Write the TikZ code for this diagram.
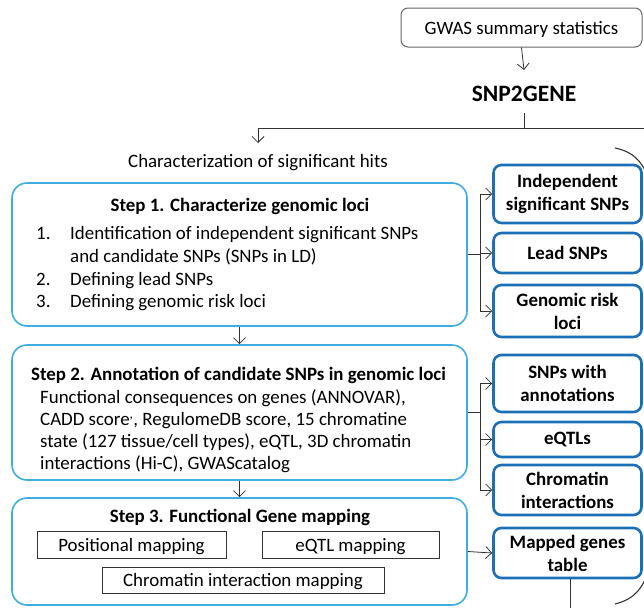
\documentclass[tikz,border=0pt]{standalone}
\usepackage{fontspec}
\setmainfont{Carlito}
\usetikzlibrary{arrows.meta}
\definecolor{lightb}{HTML}{3EADE0}
\definecolor{darkb}{HTML}{1B6FB6}
\definecolor{linec}{HTML}{333333}
\tikzset{
  stepbox/.style={draw=lightb, line width=1.6pt, rounded corners=15pt, minimum width=455pt, inner sep=0pt},
  resbox/.style={draw=darkb, line width=2.6pt, rounded corners=8pt, minimum width=148pt, inner sep=0pt, align=center, font=\fontsize{18.9}{23}\selectfont\bfseries},
  subbox/.style={draw=linec, line width=1pt, inner sep=0pt, text height=15pt, text depth=2pt, font=\fontsize{18.9}{22}\selectfont},
  txt/.style={inner sep=0pt, font=\fontsize{18.9}{22}\selectfont},
  ttl/.style={inner sep=0pt, font=\fontsize{18.9}{22}\selectfont\bfseries},
  conn/.style={draw=linec, line width=0.8pt},
  arr/.style={conn, -{Straight Barb[length=6pt,width=12pt,line width=0.8pt]}},
}
\begin{document}
\begin{tikzpicture}[x=1pt,y=-1pt]
\useasboundingbox (0,0) rectangle (644,608);
% top
\node[draw=gray!80!black, line width=1pt, rounded corners=7pt, minimum width=241pt, minimum height=39pt, txt, inner sep=0pt, text height=15pt, text depth=2pt] (gwas) at (521.5,27.5) {GWAS summary statistics};
\node[inner sep=0pt, anchor=base, font=\fontsize{23.5}{27}\selectfont\bfseries] (snp) at (524,101) {SNP2GENE};
\coordinate (j) at (524,128);
\coordinate (jl) at (258,128);
\coordinate (jr) at (644,128);
\coordinate (snpb) at (524,113);
\node[txt, anchor=base] (char) at (258,167) {Characterization of significant hits};
\coordinate (chartop) at (258,143);
\draw[arr] (gwas.south) -- (524,70);
\draw[conn] (snpb) -- (j);
\draw[conn] (jl) -- (jr);
\draw[arr] (jl) -- (chartop);

% step boxes
\node[stepbox, minimum height=143pt] (s1) at (239.5,254.5) {};
\node[stepbox, minimum height=135pt] (s2) at (239.5,412.5) {};
\node[stepbox, minimum height=107pt] (s3) at (239.5,551.5) {};

% step 1 content
\node[ttl, anchor=base] (t1) at (240,211) {Step 1. Characterize genomic loci};
\node[txt, anchor=base west] (n1) at (36,239) {1.};
\node[txt, anchor=base west] (n2) at (36,285) {2.};
\node[txt, anchor=base west] (n3) at (36,307) {3.};
\node[txt, anchor=base west] (l1) at (70,239) {Identification of independent significant SNPs};
\node[txt, anchor=base west] (l2) at (70,262) {and candidate SNPs (SNPs in LD)};
\node[txt, anchor=base west] (l3) at (70,285) {Defining lead SNPs};
\node[txt, anchor=base west] (l4) at (70,307) {Defining genomic risk loci};

% step 2 content
\node[ttl, anchor=base west] (t2) at (31,380) {Step 2. Annotation of candidate SNPs in genomic loci};
\node[txt, anchor=base west] (m1) at (40,403) {Functional consequences on genes (ANNOVAR),};
\node[txt, anchor=base west] (m2) at (40,425) {CADD score\textsuperscript{,}, RegulomeDB score, 15 chromatine};
\node[txt, anchor=base west] (m3) at (40,447) {state (127 tissue/cell types), eQTL, 3D chromatin};
\node[txt, anchor=base west] (m4) at (40,469) {interactions (Hi-C), GWAScatalog};

% step 3 content
\node[ttl, anchor=base] (t3) at (240,522) {Step 3. Functional Gene mapping};
\node[subbox, minimum width=189pt, minimum height=27pt] (pm) at (131.5,544.5) {Positional mapping};
\node[subbox, minimum width=177pt, minimum height=27pt] (em) at (350.5,544.5) {eQTL mapping};
\node[subbox, minimum width=282pt, minimum height=26pt] (cm) at (243,580) {Chromatin interaction mapping};

% result boxes
\node[resbox, minimum height=58pt] (r1) at (567.5,194) {Independent\\significant SNPs};
\node[resbox, minimum height=40pt] (r2) at (567.5,253) {Lead SNPs};
\node[resbox, minimum height=52pt] (r3) at (567.5,311) {Genomic risk\\loci};
\node[resbox, minimum height=57pt] (r4) at (567.5,383.5) {SNPs with\\annotations};
\node[resbox, minimum height=35pt] (r5) at (567.5,439.5) {eQTLs};
\node[resbox, minimum height=50pt] (r6) at (567.5,490) {Chromatin\\interactions};
\node[resbox, minimum height=50pt] (r7) at (567.5,553) {Mapped genes\\table};

% connectors
\coordinate (b1) at (480,254.5);
\draw[conn] (s1.east) -- (b1);
\draw[arr] (b1) |- (r1.west);
\draw[arr] (b1) |- (r2.west);
\draw[arr] (b1) |- (r3.west);
\coordinate (b2) at (480,412.5);
\draw[conn] (s2.east) -- (b2);
\draw[arr] (b2) |- (r4.west);
\draw[arr] (b2) |- (r5.west);
\draw[arr] (b2) |- (r6.west);
\draw[arr] (s3.east) -- (r7.west);
\draw[arr] (s1.south) -- (s2.north);
\draw[arr] (s2.south) -- (s3.north);
\coordinate (bot) at (570,608);
\draw[conn] (r7.south -| bot) -- (bot);

% arcs
\coordinate (a1) at (615,148);
\coordinate (a2) at (645,170);
\coordinate (a3) at (615,604);
\coordinate (a4) at (645,580);
\draw[conn, line width=1.1pt] (a1) to[bend left=25] (a2);
\draw[conn, line width=1.1pt] (a3) to[bend right=25] (a4);
\end{tikzpicture}
\end{document}
